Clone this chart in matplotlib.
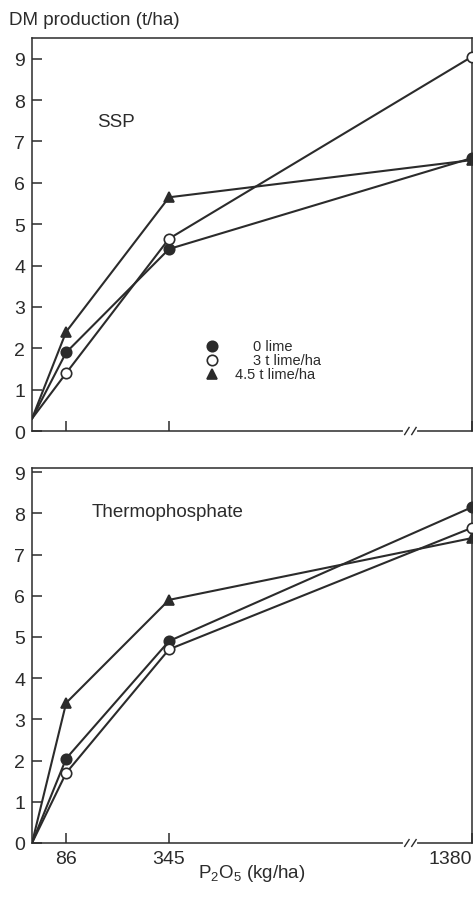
import numpy as np
import matplotlib
matplotlib.use("Agg")
import matplotlib.pyplot as plt

# P2O5 rates (kg/ha)
P_RATES = [0, 86, 345, 1380]
TICK_RATES = [86, 345, 1380]

# DM production (t/ha), SSP panel
ssp_0lime = [0.3, 1.9, 4.4, 6.6]
ssp_3lime = [0.3, 1.4, 4.65, 9.05]
ssp_45lime = [0.3, 2.4, 5.65, 6.55]

# DM production (t/ha), Thermophosphate panel
tp_0lime = [0.0, 2.05, 4.9, 8.15]
tp_3lime = [0.0, 1.7, 4.7, 7.65]
tp_45lime = [0.0, 3.4, 5.9, 7.4]

LEGEND_LABELS = ['0 lime', '3 t lime/ha', '4.5 t lime/ha']

INK = '#2b2b2b'
plt.rcParams['font.family'] = ['Liberation Sans', 'DejaVu Sans']
plt.rcParams['mathtext.fontset'] = 'custom'
plt.rcParams['mathtext.rm'] = 'Liberation Sans'
plt.rcParams['text.color'] = INK

# broken x axis: linear up to 345, compressed beyond
K = 0.737


def fwd(x):
    x = np.asarray(x, dtype=float)
    return np.where(x <= 345, x, 345 + (x - 345) * K)


def inv(x):
    x = np.asarray(x, dtype=float)
    return np.where(x <= 345, x, 345 + (x - 345) / K)


STYLES = [dict(marker='o', mfc=INK, mec=INK),
          dict(marker='o', mfc='white', mec=INK),
          dict(marker='^', mfc=INK, mec=INK)]


def setup(ax, ytop, show_xlabels):
    ax.set_xscale('function', functions=(fwd, inv))
    ax.set_xlim(0, 1380)
    ax.set_ylim(0, ytop)
    ax.set_yticks(range(0, 10))
    ax.set_xticks(TICK_RATES)
    if show_xlabels:
        ax.set_xticklabels([str(t) for t in TICK_RATES])
        ax.get_xticklabels()[-1].set_ha('right')
    else:
        ax.set_xticklabels([])
    ax.xaxis.set_minor_locator(matplotlib.ticker.NullLocator())
    ax.tick_params(direction='in', length=7, width=1.1, colors=INK,
                   labelsize=14, pad=5)
    for sp in ax.spines.values():
        sp.set_color(INK)
        sp.set_linewidth(1.1)
    # axis break marks on the bottom spine
    bx = 0.859
    ax.plot([bx - 0.012, bx + 0.012], [0, 0], transform=ax.transAxes,
            color='white', lw=3, clip_on=False, zorder=5)
    for dx in (-0.012, 0.004):
        ax.plot([bx + dx, bx + dx + 0.01], [-0.009, 0.009],
                transform=ax.transAxes, color=INK, lw=1.0,
                clip_on=False, zorder=6)


def draw(ax, series):
    for ys, st in zip(series, STYLES):
        ax.plot(P_RATES[1:], ys[1:], color=INK, lw=1.5, ms=7.5, mew=1.2,
                zorder=3, **st)
        ax.plot(P_RATES[:2], ys[:2], color=INK, lw=1.5, zorder=2)


fig = plt.figure(figsize=(4.75, 9.12), dpi=100)
ax1 = fig.add_axes([0.0674, 0.5263, 0.9263, 0.4309])
ax2 = fig.add_axes([0.0674, 0.0746, 0.9263, 0.4111])

setup(ax1, 9.5, False)
setup(ax2, 9.1, True)

draw(ax1, [ssp_0lime, ssp_3lime, ssp_45lime])
draw(ax2, [tp_0lime, tp_3lime, tp_45lime])

ax1.text(0.148, 0.788, 'SSP', transform=ax1.transAxes, fontsize=13.5,
         va='center')
ax2.text(0.136, 0.885, 'Thermophosphate', transform=ax2.transAxes,
         fontsize=13.5, va='center')

# hand-placed legend in SSP panel
leg_y = [2.05, 1.71, 1.38]
for lab, st, ly, tx in zip(LEGEND_LABELS, STYLES, leg_y, [0.503, 0.503, 0.462]):
    ax1.plot([0.41], [ly], transform=ax1.get_yaxis_transform(), ls='none',
             ms=7.5, mew=1.2, **st)
    ax1.text(tx, ly, lab, transform=ax1.get_yaxis_transform(),
             fontsize=10.5, va='center')

fig.text(0.019, 0.977, 'DM production (t/ha)', fontsize=13.5, va='center')
fig.text(0.53, 0.042, r'$\mathregular{P_2O_5}$ (kg/ha)', fontsize=13.5,
         va='center', ha='center')

fig.savefig('out.png', dpi=100)
